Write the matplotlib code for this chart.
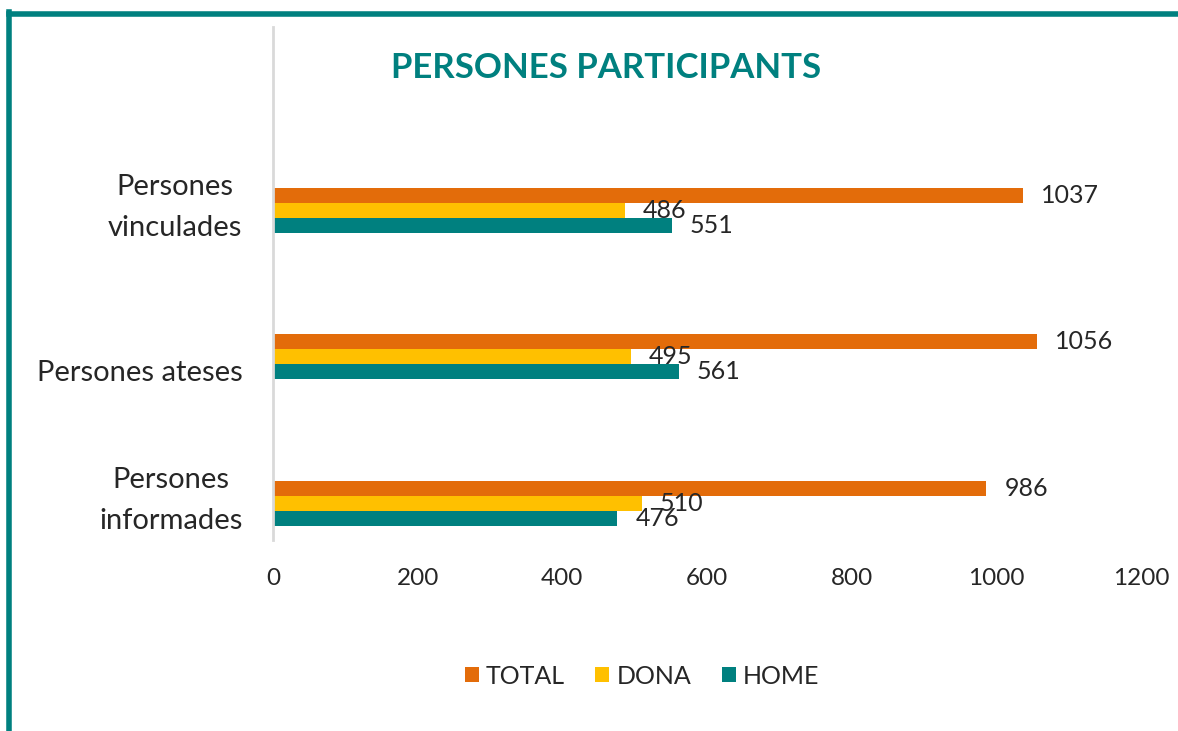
import matplotlib.pyplot as plt
from matplotlib.lines import Line2D
from matplotlib.transforms import ScaledTranslation
import numpy as np

categories = ['Persones\ninformades', 'Persones ateses', 'Persones\nvinculades']
home = [476, 561, 551]
dona = [510, 495, 486]
total = [986, 1056, 1037]
xticks = [0, 200, 400, 600, 800, 1000, 1200]

teal = '#00807F'
orange = '#E36C0A'
yellow = '#FFC000'

plt.rcParams['font.family'] = ['Lato', 'DejaVu Sans']

fig = plt.figure(figsize=(11.78, 7.31), dpi=100)
ax = fig.add_axes([273/1178, 191/731, 868/1178, 513/731])

y = np.arange(len(categories))
h = 0.102
series = [(total, orange, 'TOTAL', h), (dona, yellow, 'DONA', 0), (home, teal, 'HOME', -h)]
for vals, col, name, off in series:
    bars = ax.barh(y + off, vals, height=h, color=col, label=name)
    for b, v in zip(bars, vals):
        ax.annotate(str(v), (b.get_width(), b.get_y() + b.get_height()/2),
                    textcoords='offset points', xytext=(13, 0),
                    ha='left', va='center', fontsize=18, color='#262626')

ax.set_xlim(0, 1200)
ax.set_ylim(-0.25, 3.25)
ax.set_xticks(xticks)
ax.set_xticklabels([str(t) for t in xticks], fontsize=17.5, color='#262626')
ax.set_yticks(y)
ax.set_yticklabels(categories, fontsize=21, color='#262626', ha='right',
                   va='center', multialignment='center', linespacing=1.7)
ax.tick_params(axis='y', length=0, pad=22)
ax.tick_params(axis='x', length=0, pad=20)
# excel puts the labels slightly off the group centre
shift_px = [3, -16, 3]
for lab, d in zip(ax.get_yticklabels(), shift_px):
    lab.set_transform(lab.get_transform() + ScaledTranslation(0, d/100, fig.dpi_scale_trans))
for s in ['top', 'right', 'bottom']:
    ax.spines[s].set_visible(False)
ax.spines['left'].set_color('#D9D9D9')
ax.spines['left'].set_linewidth(2)

fig.text(606/1178, (731-68)/731, 'PERSONES PARTICIPANTS', ha='center', va='center',
         fontsize=25, fontweight='bold', color=teal)

handles, labels = ax.get_legend_handles_labels()
fig.legend(handles, labels, loc='center', bbox_to_anchor=(642/1178, (731-676)/731),
           ncol=3, frameon=False, fontsize=18, handlelength=0.56, handleheight=0.56,
           columnspacing=1.2, handletextpad=0.3, labelcolor='#262626')

# teal frame on top and left edges
fig.add_artist(Line2D([9/1178, 1], [1 - 14/731, 1 - 14/731], color=teal, lw=4,
                      transform=fig.transFigure))
fig.add_artist(Line2D([9/1178, 9/1178], [0, 1 - 12/731], color=teal, lw=4,
                      transform=fig.transFigure))

fig.savefig('out.png', dpi=100, facecolor='white')
